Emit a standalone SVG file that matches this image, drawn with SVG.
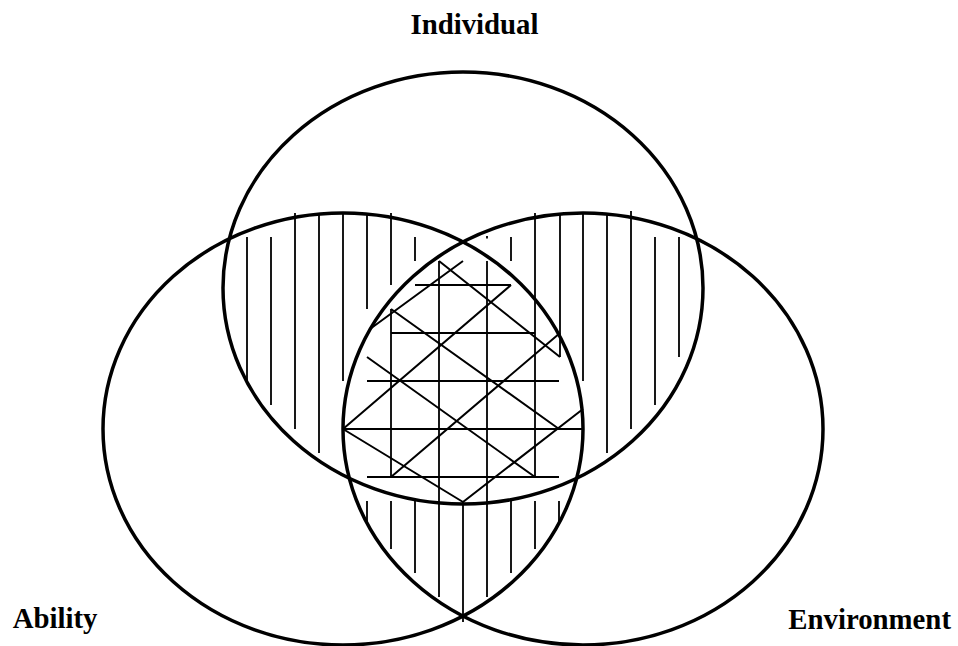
<svg xmlns="http://www.w3.org/2000/svg" width="958" height="646" viewBox="0 0 958 646">
<style>
.ring{fill:none;stroke:#000;stroke-width:3.5}
.h{stroke:#000;stroke-width:1.8;fill:none}
.x{stroke:#000;stroke-width:2;fill:none}
.lbl{font-family:"Liberation Serif","Times New Roman",serif;font-weight:bold;font-size:28.8px;fill:#000}
</style>
<rect width="958" height="646" fill="#fff"/>
<g id="hatching">
<g id="left-lobe-hatch">
<path class="h" d="M247,237V381M271,237V405M295,213V429M319,213V453M343,213V381M367,213V309M391,213V285M415,237V261"/>
</g>
<g id="right-lobe-hatch">
<path class="h" d="M487,236V238.5M511,237V261M535,213V477M560,213V357M583,213V381M607,213V453M631,211V429M655,237V405M679,237V357"/>
</g>
<g id="bottom-lobe-hatch">
<path class="h" d="M367,501V525M391,501V549M415,501V573M463,502V622M511,501V573M535,501V549M559,501V525"/>
</g>
<g id="center-hatch">
<path class="h" d="M391,309V477M439,261V597M487,261V597"/>
<path class="x" d="M415,285H511M391,333H535M367,381H559M343,429H583M367,477H559"/>
<path class="x" d="M439,261L560,357M391,309L559,429M367,357L535,477M343,429L463,502"/>
<path class="x" d="M370,329L463,261M343,429L511,285M391,477L560,333M463,502L583,409"/>
</g>
</g>
<g id="individual">
<ellipse class="ring" cx="463" cy="288" rx="240" ry="216"/>
<text class="lbl" x="474.5" y="34" text-anchor="middle">Individual</text>
</g>
<g id="ability">
<ellipse class="ring" cx="343" cy="429" rx="240" ry="216"/>
<text class="lbl" x="12.7" y="628">Ability</text>
</g>
<g id="environment">
<ellipse class="ring" cx="583" cy="429" rx="240" ry="216"/>
<text class="lbl" x="788.3" y="629">Environment</text>
</g>
<g id="connectors"/>
</svg>
